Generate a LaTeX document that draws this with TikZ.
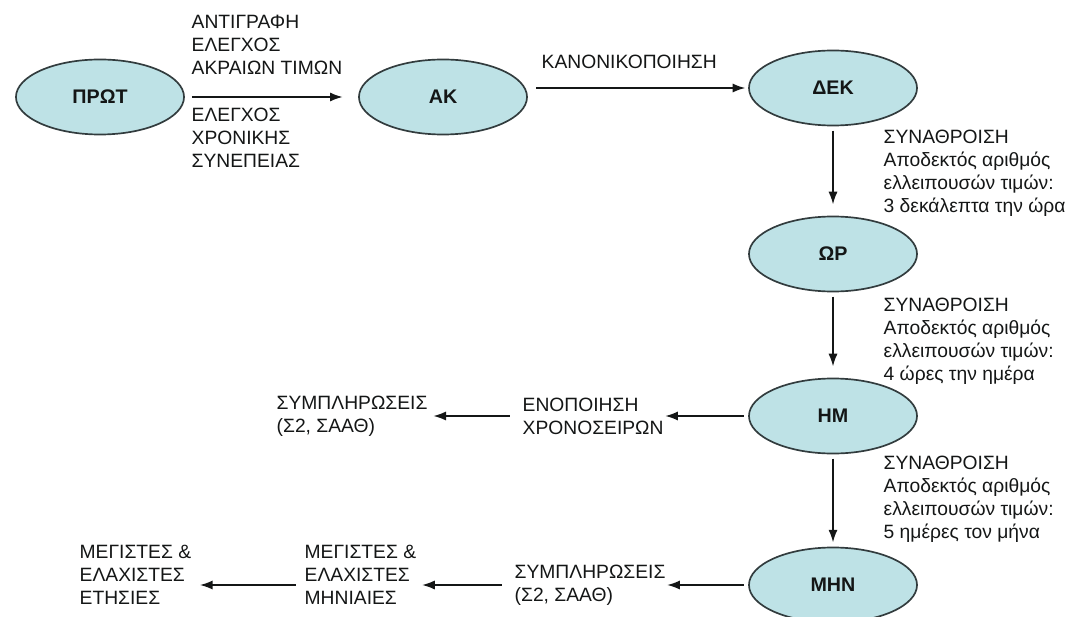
\documentclass[tikz,border=0pt]{standalone}
\usepackage{fontspec}
\setmainfont{Liberation Sans}
\usetikzlibrary{shapes.geometric,arrows.meta}
\definecolor{ovalfill}{RGB}{190,226,230}
\definecolor{ovalline}{RGB}{50,60,62}
\definecolor{inkgray}{RGB}{20,22,22}

\begin{document}
\begin{tikzpicture}[x=0.025cm, y=-0.025cm,
    state/.style={draw=ovalline, line width=1.2pt, ellipse, fill=ovalfill,
        minimum width=4.2cm, minimum height=1.875cm, inner sep=0pt,
        font=\fontsize{14}{16}\selectfont\bfseries, text=inkgray},
    txt/.style={align=left, anchor=west, inner sep=1pt,
        font=\fontsize{13.7}{16.3}\selectfont, text=inkgray},
    flow/.style={-{Latex[length=9pt,width=6.5pt]}, line width=1.2pt, draw=inkgray}]
    \useasboundingbox (0,0) rectangle (1071,617);

    % Nodes
    \node[state] (prot) at (100,97) {ΠΡΩΤ};
    \node[state] (ak) at (443,97) {ΑΚ};
    \node[state] (dek) at (833,88) {ΔΕΚ};
    \node[state] (wr) at (833,254) {ΩΡ};
    \node[state] (hm) at (833,416) {ΗΜ};
    \node[state] (mhn) at (833,585) {ΜΗΝ};

    \node[txt] (enop) at (521,416) {ΕΝΟΠΟΙΗΣΗ\\ΧΡΟΝΟΣΕΙΡΩΝ};
    \node[txt] (fillday) at (275,416) {ΣΥΜΠΛΗΡΩΣΕΙΣ\\(Σ2, ΣΑΑΘ)};
    \node[txt] (fillmon) at (513,585) {ΣΥΜΠΛΗΡΩΣΕΙΣ\\(Σ2, ΣΑΑΘ)};
    \node[txt] (maxmon) at (303,575) {ΜΕΓΙΣΤΕΣ \&\\ΕΛΑΧΙΣΤΕΣ\\ΜΗΝΙΑΙΕΣ};
    \node[txt] (maxyear) at (78,575) {ΜΕΓΙΣΤΕΣ \&\\ΕΛΑΧΙΣΤΕΣ\\ΕΤΗΣΙΕΣ};

    % Arrows
    \draw[flow, shorten <=5pt, shorten >=11pt] (prot) -- (ak);
    \draw[flow, shorten <=6pt, shorten >=2pt] (ak.east |- dek) -- (dek.west);
    \draw[flow, shorten <=3pt, shorten >=8pt] (dek) -- (wr);
    \draw[flow, shorten <=3pt, shorten >=8pt] (wr) -- (hm);
    \draw[flow, shorten <=3pt, shorten >=3pt] (hm) -- (mhn);
    \draw[flow, shorten <=3pt] (hm) -- (enop);
    \draw[flow, shorten <=8pt, shorten >=3pt] (enop) -- (fillday);
    \draw[flow, shorten <=3pt] (mhn) -- (fillmon);
    \draw[flow, shorten <=8pt, shorten >=3pt] (fillmon.west) -- (maxmon.east |- fillmon.west);
    \draw[flow, shorten <=5pt, shorten >=5pt] (maxmon.west |- fillmon.west) -- (maxyear.east |- fillmon.west);

    % Labels
    \node[txt] (copy) at (190,45) {ΑΝΤΙΓΡΑΦΗ\\ΕΛΕΓΧΟΣ\\ΑΚΡΑΙΩΝ ΤΙΜΩΝ};
    \node[txt] (check) at (190,138) {ΕΛΕΓΧΟΣ\\ΧΡΟΝΙΚΗΣ\\ΣΥΝΕΠΕΙΑΣ};
    \node[txt] (norm) at (540,62) {ΚΑΝΟΝΙΚΟΠΟΙΗΣΗ};
    \node[txt] (agghour) at (882,173) {ΣΥΝΑΘΡΟΙΣΗ\\Αποδεκτός αριθμός\\ελλειπουσών τιμών:\\3 δεκάλεπτα την ώρα};
    \node[txt] (aggday) at (882,341) {ΣΥΝΑΘΡΟΙΣΗ\\Αποδεκτός αριθμός\\ελλειπουσών τιμών:\\4 ώρες την ημέρα};
    \node[txt] (aggmon) at (882,499) {ΣΥΝΑΘΡΟΙΣΗ\\Αποδεκτός αριθμός\\ελλειπουσών τιμών:\\5 ημέρες τον μήνα};
\end{tikzpicture}
\end{document}
